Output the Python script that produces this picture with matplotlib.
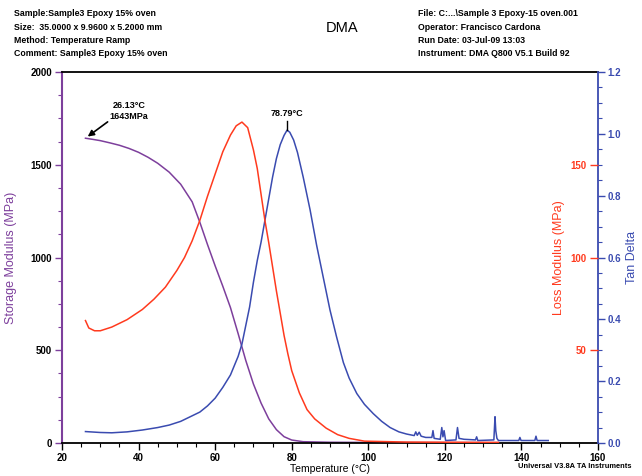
import matplotlib
matplotlib.use("Agg")
from matplotlib import pyplot as plt
from matplotlib.ticker import MultipleLocator, FixedLocator

plt.rcParams['font.family'] = ['Liberation Sans', 'DejaVu Sans']

# storage modulus (MPa)
storage_T = [26.13, 28, 30, 32.5, 35, 37.5, 40, 42.5, 45, 48, 51, 54, 56, 58, 60, 62, 64,
             66, 68, 70, 72, 74, 76, 78, 80, 83, 90, 100, 115, 134]
storage = [1643, 1637, 1630, 1618, 1605, 1588, 1567, 1540, 1508, 1460, 1395, 1300, 1190,
           1070, 955, 845, 730, 590, 445, 318, 215, 130, 72, 34, 16, 7, 4, 3, 2, 2]

# loss modulus (MPa)
loss_T = [26.13, 27, 28.5, 30, 33, 37, 41, 44, 47, 50, 52, 54, 56, 58, 60, 62, 64, 65.5,
          67, 68.5, 70, 71, 72, 73, 74, 75, 76, 77, 78, 79, 80, 82, 84, 86, 89, 92, 95,
          99, 110, 134]
loss = [66, 62, 60.5, 60.5, 62.5, 66.5, 72, 77.5, 84, 93, 100, 109, 120, 133, 145, 157,
        166, 171, 173, 170, 158, 148, 134, 120, 108, 95, 82, 70, 58, 48, 39, 27, 18, 13,
        8, 4.5, 2.5, 1, 0.5, 0.3]

# tan delta
tan_T = [26.13, 30, 33, 37, 41, 45, 48, 51, 54, 56, 58, 60, 62, 64, 66, 67, 68, 69, 70,
         71, 72, 73, 74, 75, 76, 77, 78, 78.79, 79.5, 80.5, 81.5, 83, 84.8, 86.5, 88.2,
         90, 91.7, 93.5, 95, 97, 99, 101.3, 103.5, 105.7, 108, 110, 112, 112.4, 112.8,
         113.3, 113.8, 115, 116.6, 116.9, 117.2, 118.8, 119.2, 119.5, 119.8, 120.2, 122.9,
         123.3, 123.7, 125, 128, 128.3, 128.6, 132.8, 133.1, 133.3, 133.6, 134, 139.3,
         139.6, 139.9, 143.5, 143.8, 144.1, 147]
tan = [0.037, 0.034, 0.033, 0.036, 0.042, 0.05, 0.058, 0.07, 0.088, 0.10, 0.12, 0.145,
       0.18, 0.22, 0.28, 0.32, 0.38, 0.44, 0.52, 0.59, 0.65, 0.72, 0.79, 0.86, 0.92,
       0.965, 0.995, 1.012, 1.005, 0.98, 0.94, 0.86, 0.754, 0.64, 0.538, 0.43, 0.344,
       0.26, 0.21, 0.16, 0.125, 0.095, 0.07, 0.05, 0.036, 0.029, 0.024, 0.036, 0.025,
       0.035, 0.022, 0.018, 0.018, 0.04, 0.015, 0.012, 0.05, 0.02, 0.04, 0.008, 0.01,
       0.05, 0.015, 0.012, 0.01, 0.02, 0.008, 0.01, 0.085, 0.04, 0.015, 0.008, 0.008,
       0.018, 0.008, 0.008, 0.022, 0.008, 0.008]

header_left = ["Sample:Sample3 Epoxy 15% oven",
               "Size:  35.0000 x 9.9600 x 5.2000 mm",
               "Method: Temperature Ramp",
               "Comment: Sample3 Epoxy 15% oven"]
header_right = ["File: C:...\\Sample 3 Epoxy-15 oven.001",
                "Operator: Francisco Cardona",
                "Run Date: 03-Jul-09 13:03",
                "Instrument: DMA Q800 V5.1 Build 92"]

purple = '#7d3f9c'
red = '#ff3a1e'
blue = '#3a4bb0'

W, H = 642, 476
fig = plt.figure(figsize=(W / 100, H / 100), dpi=100)
ax = fig.add_axes([62 / W, 33 / H, 536 / W, 371 / H])
ax_t = ax.twinx()
ax_l = ax.twinx()

ax.plot(storage_T, storage, color=purple, lw=1.1)
ax_l.plot(loss_T, loss, color=red, lw=1.1)
ax_t.plot(tan_T, tan, color=blue, lw=1.1)

ax.set_xlim(20, 160)
ax.set_ylim(0, 2000)
ax_t.set_ylim(0, 1.2)
ax_l.set_ylim(0, 200)

ax.xaxis.set_major_locator(MultipleLocator(20))
ax.xaxis.set_minor_locator(MultipleLocator(5))
ax.yaxis.set_major_locator(MultipleLocator(500))
ax.yaxis.set_minor_locator(MultipleLocator(125))
ax_t.yaxis.set_major_locator(MultipleLocator(0.2))
ax_t.yaxis.set_minor_locator(MultipleLocator(0.05))
ax_t.yaxis.set_major_formatter(matplotlib.ticker.FormatStrFormatter('%.1f'))
ax_l.yaxis.set_major_locator(FixedLocator([50, 100, 150]))

# spines
for s in ['top', 'bottom']:
    ax.spines[s].set_color('black')
    ax.spines[s].set_linewidth(1.3)
ax.spines['left'].set_color(purple)
ax.spines['left'].set_linewidth(1.5)
ax.spines['right'].set_visible(False)
for s in ['left', 'top', 'bottom']:
    ax_t.spines[s].set_visible(False)
ax_t.spines['right'].set_color(blue)
ax_t.spines['right'].set_linewidth(1.3)
for s in ['right', 'top', 'bottom']:
    ax_l.spines[s].set_visible(False)
ax_l.spines['left'].set_position(('axes', 1.0))
ax_l.spines['left'].set_visible(False)
ax_l.yaxis.set_ticks_position('left')
ax_l.yaxis.set_label_position('left')

ax.tick_params(axis='x', which='major', length=5, width=1, labelsize=7, pad=2)
ax.tick_params(axis='x', which='minor', length=3, width=0.8)
ax.tick_params(axis='x', top=False)
ax.tick_params(axis='y', which='major', length=5, width=1, color=purple, labelsize=7, pad=2)
ax.tick_params(axis='y', which='minor', length=3, width=0.8, color=purple)
ax_t.tick_params(axis='y', which='major', length=5, width=1, color=blue, labelcolor=blue,
                 labelsize=7, pad=2)
ax_t.tick_params(axis='y', which='minor', length=3, width=0.8, color=blue)
ax_l.tick_params(axis='y', which='major', length=6, width=1, color=red, labelcolor=red,
                 labelsize=7, pad=2)

for lbl in ax.get_xticklabels() + ax.get_yticklabels() + ax_t.get_yticklabels() + ax_l.get_yticklabels():
    lbl.set_fontweight('bold')

ax.set_ylabel('Storage Modulus (MPa)', color=purple, fontsize=9, labelpad=10)
ax_t.set_ylabel('Tan Delta', color=blue, fontsize=9, labelpad=3)
ax_l.set_ylabel('Loss Modulus (MPa)', color=red, fontsize=9, labelpad=4)
ax.set_xlabel('Temperature (°C)', fontsize=7.5, labelpad=1)

# annotations
ax.annotate('', xy=(storage_T[0], storage[0]), xytext=(32.5, 1740),
            arrowprops=dict(arrowstyle='-|>', color='black', lw=1.2, mutation_scale=9))
ax.text(37.5, 1790, '26.13°C\n1643MPa', fontsize=6.5, fontweight='bold', ha='center',
        va='center', linespacing=1.2)
ax_t.plot([tan_T[27], tan_T[27]], [tan[27], tan[27] + 0.03], color='black', lw=1)
ax_t.text(tan_T[27], 1.05, '78.79°C', fontsize=6.5, fontweight='bold', ha='center',
          va='bottom')

# header
for i, line in enumerate(header_left):
    fig.text(14 / W, 1 - (14 + 13.3 * i) / H, line, fontsize=6.3, fontweight='bold',
             va='center', ha='left')
for i, line in enumerate(header_right):
    fig.text(418 / W, 1 - (14 + 13.3 * i) / H, line, fontsize=6.3, fontweight='bold',
             va='center', ha='left')
fig.text(342 / W, 1 - 28 / H, 'DMA', fontsize=10.5, ha='center', va='center')
fig.text(518 / W, 1 - 467 / H, 'Universal V3.8A TA Instruments', fontsize=5.4,
         fontweight='bold', ha='left', va='center')

fig.savefig('out.png', dpi=100)
